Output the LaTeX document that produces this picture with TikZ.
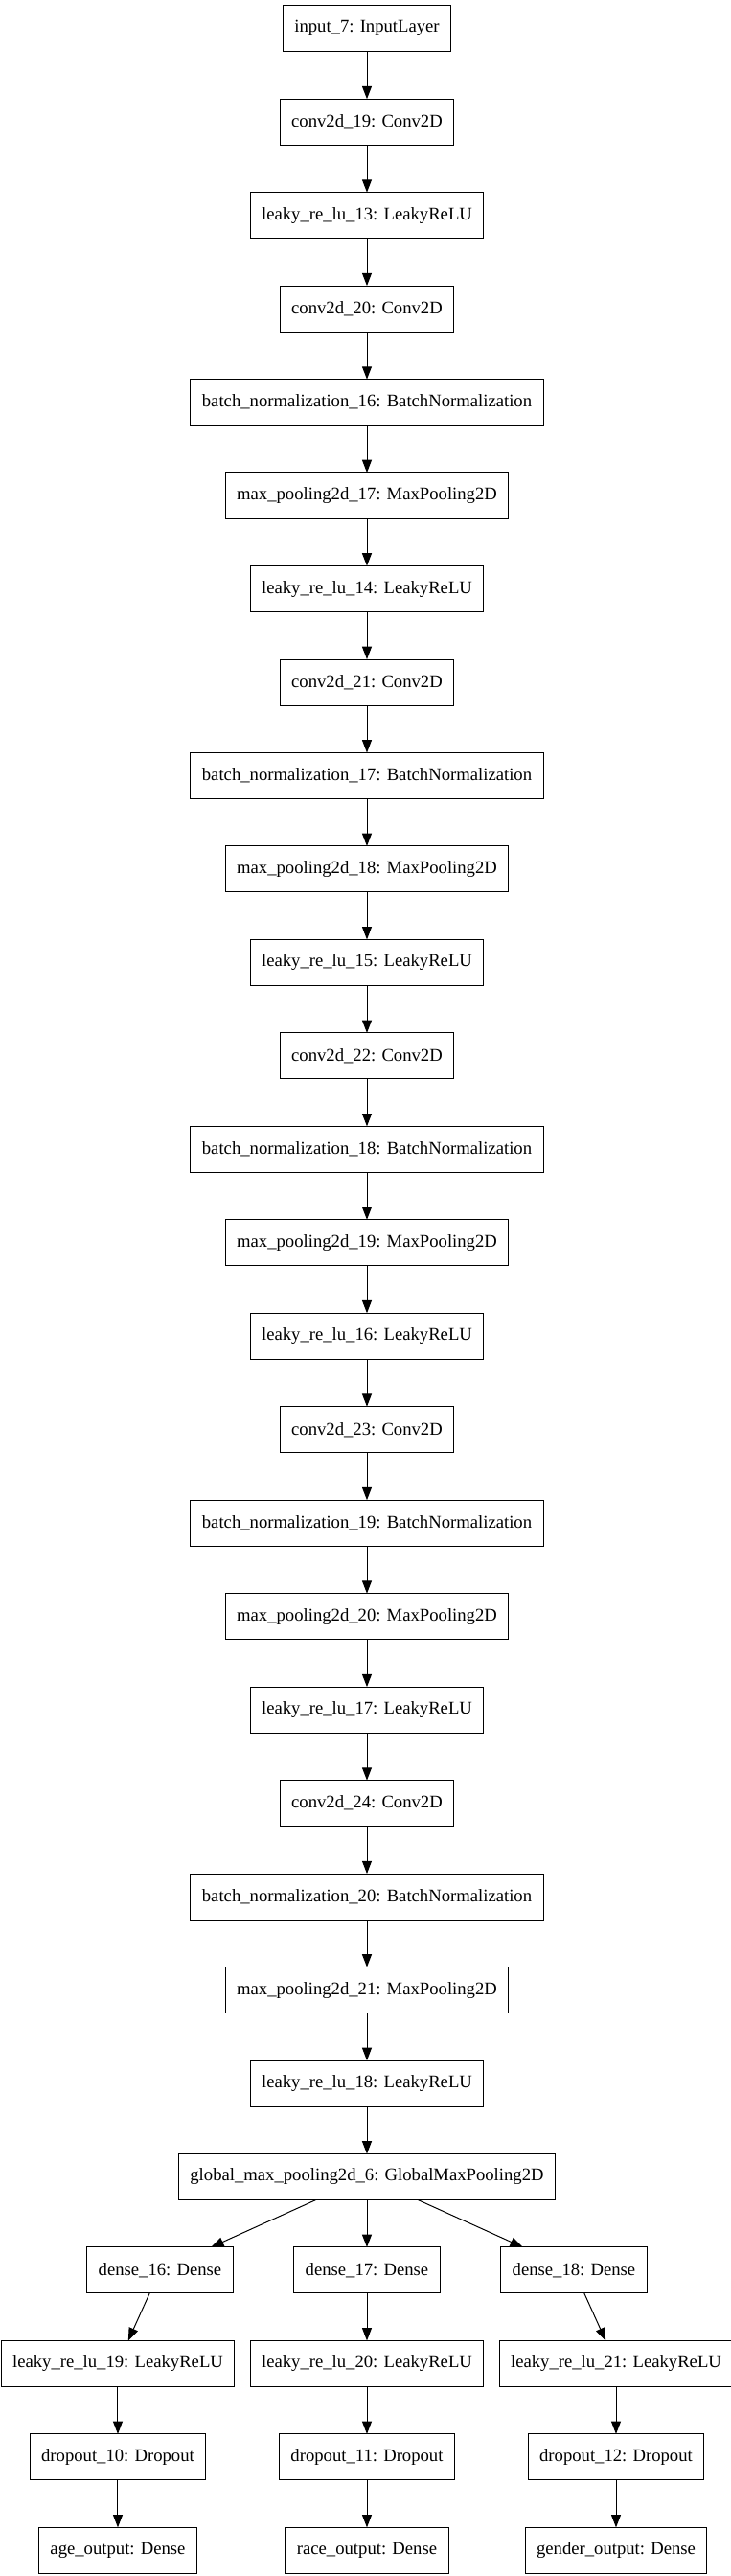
\documentclass[tikz,border=0pt]{standalone}
\usepackage{fontspec}
\setmainfont{Liberation Serif}
\usepackage{tikz}
\usetikzlibrary{shapes, arrows.meta, positioning}

\begin{document}
\begin{tikzpicture}[node distance=73.1bp, auto,
            block/.style={draw, rectangle, line width=0.75bp, minimum height=36bp, inner xsep=9bp, inner ysep=0pt, outer sep=0pt, font=\fontsize{14bp}{16bp}\selectfont},
            arrow/.style={-{Triangle[length=10bp, width=7.5bp]}, line width=0.75bp}]

            \useasboundingbox (-287.25bp,22.3bp) rectangle (285bp,-1993.7bp);

            % main column
            \node[block] (input) {input\_7: InputLayer};
            \node[block, below of=input] (conv19) {conv2d\_19: Conv2D};
            \node[block, below of=conv19] (leaky13) {leaky\_re\_lu\_13: LeakyReLU};
            \node[block, below of=leaky13] (conv20) {conv2d\_20: Conv2D};
            \node[block, below of=conv20] (bn16) {batch\_normalization\_16: BatchNormalization};
            \node[block, below of=bn16] (pool17) {max\_pooling2d\_17: MaxPooling2D};
            \node[block, below of=pool17] (leaky14) {leaky\_re\_lu\_14: LeakyReLU};
            \node[block, below of=leaky14] (conv21) {conv2d\_21: Conv2D};
            \node[block, below of=conv21] (bn17) {batch\_normalization\_17: BatchNormalization};
            \node[block, below of=bn17] (pool18) {max\_pooling2d\_18: MaxPooling2D};
            \node[block, below of=pool18] (leaky15) {leaky\_re\_lu\_15: LeakyReLU};
            \node[block, below of=leaky15] (conv22) {conv2d\_22: Conv2D};
            \node[block, below of=conv22] (bn18) {batch\_normalization\_18: BatchNormalization};
            \node[block, below of=bn18] (pool19) {max\_pooling2d\_19: MaxPooling2D};
            \node[block, below of=pool19] (leaky16) {leaky\_re\_lu\_16: LeakyReLU};
            \node[block, below of=leaky16] (conv23) {conv2d\_23: Conv2D};
            \node[block, below of=conv23] (bn19) {batch\_normalization\_19: BatchNormalization};
            \node[block, below of=bn19] (pool20) {max\_pooling2d\_20: MaxPooling2D};
            \node[block, below of=pool20] (leaky17) {leaky\_re\_lu\_17: LeakyReLU};
            \node[block, below of=leaky17] (conv24) {conv2d\_24: Conv2D};
            \node[block, below of=conv24] (bn20) {batch\_normalization\_20: BatchNormalization};
            \node[block, below of=bn20] (pool21) {max\_pooling2d\_21: MaxPooling2D};
            \node[block, below of=pool21] (leaky18) {leaky\_re\_lu\_18: LeakyReLU};
            \node[block, below of=leaky18] (gpool) {global\_max\_pooling2d\_6: GlobalMaxPooling2D};

            % three heads
            \node[block, below of=gpool, xshift=-162bp] (dense16) {dense\_16: Dense};
            \node[block, below of=gpool] (dense17) {dense\_17: Dense};
            \node[block, below of=gpool, xshift=162bp] (dense18) {dense\_18: Dense};
            \node[block, below of=dense16, xshift=-33bp] (leaky19) {leaky\_re\_lu\_19: LeakyReLU};
            \node[block, below of=dense17] (leaky20) {leaky\_re\_lu\_20: LeakyReLU};
            \node[block, below of=dense18, xshift=33bp] (leaky21) {leaky\_re\_lu\_21: LeakyReLU};
            \node[block, below of=leaky19] (drop10) {dropout\_10: Dropout};
            \node[block, below of=leaky20] (drop11) {dropout\_11: Dropout};
            \node[block, below of=leaky21] (drop12) {dropout\_12: Dropout};
            \node[block, below of=drop10] (age) {age\_output: Dense};
            \node[block, below of=drop11] (race) {race\_output: Dense};
            \node[block, below of=drop12] (gender) {gender\_output: Dense};

            \draw[arrow] (input) -- (conv19);
            \draw[arrow] (conv19) -- (leaky13);
            \draw[arrow] (leaky13) -- (conv20);
            \draw[arrow] (conv20) -- (bn16);
            \draw[arrow] (bn16) -- (pool17);
            \draw[arrow] (pool17) -- (leaky14);
            \draw[arrow] (leaky14) -- (conv21);
            \draw[arrow] (conv21) -- (bn17);
            \draw[arrow] (bn17) -- (pool18);
            \draw[arrow] (pool18) -- (leaky15);
            \draw[arrow] (leaky15) -- (conv22);
            \draw[arrow] (conv22) -- (bn18);
            \draw[arrow] (bn18) -- (pool19);
            \draw[arrow] (pool19) -- (leaky16);
            \draw[arrow] (leaky16) -- (conv23);
            \draw[arrow] (conv23) -- (bn19);
            \draw[arrow] (bn19) -- (pool20);
            \draw[arrow] (pool20) -- (leaky17);
            \draw[arrow] (leaky17) -- (conv24);
            \draw[arrow] (conv24) -- (bn20);
            \draw[arrow] (bn20) -- (pool21);
            \draw[arrow] (pool21) -- (leaky18);
            \draw[arrow] (leaky18) -- (gpool);
            \draw[arrow] (gpool) -- (dense16);
            \draw[arrow] (gpool) -- (dense17);
            \draw[arrow] (gpool) -- (dense18);
            \draw[arrow] (dense16) -- (leaky19);
            \draw[arrow] (dense17) -- (leaky20);
            \draw[arrow] (dense18) -- (leaky21);
            \draw[arrow] (leaky19) -- (drop10);
            \draw[arrow] (leaky20) -- (drop11);
            \draw[arrow] (leaky21) -- (drop12);
            \draw[arrow] (drop10) -- (age);
            \draw[arrow] (drop11) -- (race);
            \draw[arrow] (drop12) -- (gender);
        \end{tikzpicture}
\end{document}
